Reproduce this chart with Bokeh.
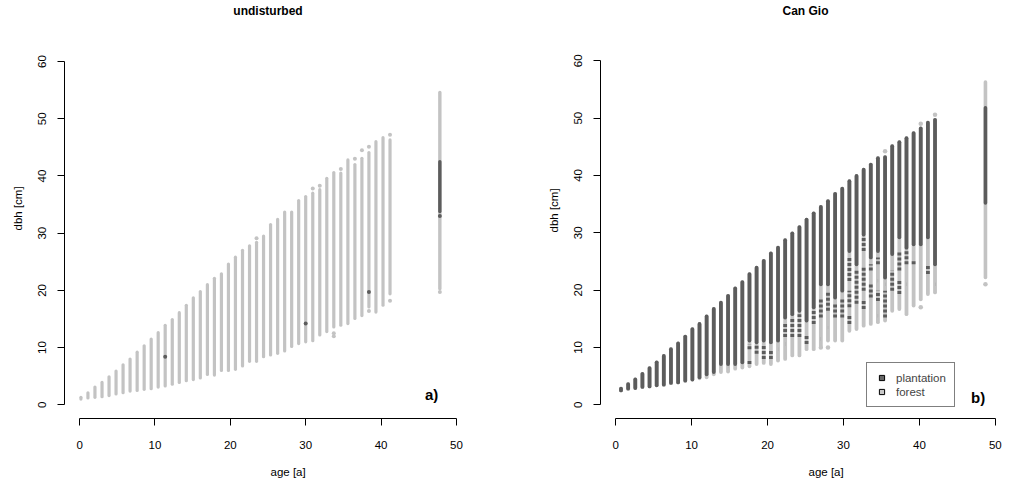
from bokeh.plotting import figure
from bokeh.models import ColumnDataSource, FixedTicker, Label, Legend, LegendItem, Range1d, Title
from bokeh.layouts import row
from bokeh.embed import file_html
from bokeh.resources import INLINE

FONT = "Liberation Sans"
LIGHT = "#c3c3c3"
DARK = "#5c5c5c"

# ---------------- panel a) undisturbed ----------------
L_AGE = [0.18, 1.11, 2.04, 2.98, 3.91, 4.84, 5.77, 6.70, 7.64, 8.57, 9.50, 10.43, 11.36,
         12.30, 13.23, 14.16, 15.09, 16.02, 16.96, 17.89, 18.82, 19.75, 20.68, 21.62,
         22.55, 23.48, 24.41, 25.34, 26.28, 27.21, 28.14, 29.07, 30.00, 30.94, 31.87,
         32.80, 33.73, 34.66, 35.60, 36.53, 37.46, 38.39, 39.32, 40.26, 41.19]
L_TOP = [1.3, 2.1, 3.1, 3.9, 4.9, 5.9, 7.0, 8.0, 9.2, 10.3, 11.5, 12.6, 13.9, 14.9, 16.1,
         17.4, 18.7, 19.8, 21.0, 22.1, 22.9, 24.6, 25.8, 27.0, 27.8, 28.4, 29.5, 31.5, 32.4,
         33.7, 33.7, 35.7, 36.4, 37.0, 37.6, 39.6, 40.6, 40.5, 42.8, 42.0, 43.1, 44.1, 46.0,
         46.7, 46.3]
L_BOT = [1.0, 1.2, 1.3, 1.4, 1.6, 1.9, 2.1, 2.4, 2.5, 2.7, 2.8, 3.1, 3.3, 3.6, 3.9, 4.2,
         4.4, 4.7, 5.3, 5.2, 6.0, 6.0, 6.2, 6.8, 7.6, 7.6, 8.4, 8.7, 9.0, 9.4, 10.2, 10.7,
         11.0, 11.2, 12.2, 12.8, 13.6, 13.9, 14.2, 15.1, 15.6, 17.1, 16.2, 17.4, 19.4]
L_LDOT_IDX = [25, 33, 34, 37, 39, 40, 41, 44, 44, 36, 36, 41]
L_LDOT_VAL = [29.1, 37.8, 38.3, 41.2, 43.0, 44.5, 45.1, 47.2, 18.2, 12.5, 12.0, 16.4]
L_DDOT_IDX = [12, 32, 41]
L_DDOT_VAL = [8.4, 14.2, 19.7]
L_SUM_AGE = [47.8]
L_SUM_LIGHT_LO, L_SUM_LIGHT_HI = [20.3], [54.6]
L_SUM_DARK_LO, L_SUM_DARK_HI = [33.8], [42.5]
L_SUM_LDOT, L_SUM_DDOT = [19.7], [33.0]

# ---------------- panel b) Can Gio ----------------
R_AGE = [0.70, 1.64, 2.58, 3.52, 4.46, 5.40, 6.34, 7.28, 8.22, 9.16, 10.10, 11.04, 11.98,
         12.92, 13.86, 14.80, 15.74, 16.68, 17.62, 18.56, 19.50, 20.44, 21.38, 22.32,
         23.26, 24.20, 25.14, 26.08, 27.02, 27.96, 28.90, 29.84, 30.78, 31.72, 32.66,
         33.60, 34.54, 35.48, 36.42, 37.36, 38.30, 39.24, 40.18, 41.12, 42.06]
R_DARK_TOP = [2.8, 3.6, 4.4, 5.4, 6.4, 7.4, 8.5, 9.7, 10.7, 11.9, 13.2, 14.1, 15.4, 16.7,
              17.8, 19.0, 20.3, 21.4, 22.8, 23.9, 25.1, 26.4, 27.4, 28.7, 29.9, 31.0, 32.3,
              33.4, 34.5, 35.5, 36.8, 37.7, 39.0, 39.9, 41.0, 41.9, 43.0, 43.2, 45.1, 45.8,
              46.5, 47.4, 48.2, 49.2, 49.7]
R_DARK_BOT = [2.5, 2.8, 2.9, 3.1, 3.2, 3.4, 3.5, 3.8, 3.9, 4.2, 4.4, 4.8, 5.3, 5.7, 7.1,
              7.1, 7.1, 7.4, 11.2, 10.9, 11.2, 10.9, 11.2, 15.2, 15.8, 16.4, 14.7, 17.0,
              21.0, 21.0, 18.7, 19.9, 26.8, 24.5, 29.7, 25.7, 26.8, 22.2, 26.3, 29.2, 27.4,
              28.0, 28.0, 29.2, 24.5]
R_LIGHT_BOT = [2.5, 2.8, 2.9, 3.1, 3.2, 3.4, 3.5, 3.8, 3.9, 4.2, 4.4, 4.6, 4.8, 5.3, 5.7,
               5.8, 6.3, 6.5, 6.7, 7.1, 7.3, 7.1, 7.7, 8.0, 8.6, 8.6, 9.7, 9.7, 10.3, 11.2,
               11.2, 11.2, 12.9, 13.2, 13.8, 14.1, 14.4, 14.7, 16.4, 16.7, 15.8, 17.3, 18.4,
               19.3, 19.6]
R_MIX_IDX = [14, 15, 18, 18, 19, 20, 21, 22, 23, 23, 24, 25, 26, 27, 28, 28, 29, 29, 30, 31,
             32, 32, 32, 33, 34, 34, 34, 35, 35, 36, 36, 36, 36, 37, 37, 38, 39, 39, 40, 40,
             41, 43, 44]
R_MIX_HI = [6.7, 6.7, 10.6, 7.7, 10.3, 10.6, 9.4, 9.7, 14.1, 10.6, 15.2, 15.8, 12.1, 16.4,
            18.7, 11.5, 19.9, 13.5, 17.6, 18.7, 25.7, 19.9, 15.8, 23.4, 29.2, 23.9, 18.1,
            24.5, 21.0, 25.7, 21.6, 19.9, 15.5, 21.0, 19.9, 23.4, 26.8, 21.6, 26.8, 21.0,
            25.1, 24.5, 21.0]
R_MIX_LO = [6.7, 6.7, 9.7, 7.1, 8.9, 8.0, 8.0, 9.7, 11.8, 10.6, 11.8, 11.8, 10.6, 14.1,
            15.2, 11.5, 16.4, 13.5, 15.2, 15.2, 21.6, 17.0, 14.1, 17.6, 26.8, 19.9, 16.7,
            23.4, 18.7, 24.5, 21.6, 18.1, 15.5, 21.0, 15.2, 19.9, 23.4, 19.3, 24.5, 21.0,
            24.5, 22.8, 21.0]
R_LDOT_IDX = [37, 42, 44, 28, 29, 42]
R_LDOT_VAL = [44.2, 49.0, 50.6, 10.0, 10.0, 17.0]
R_SUM_AGE = [48.7]
R_SUM_LIGHT_LO, R_SUM_LIGHT_HI = [22.2], [56.3]
R_SUM_DARK_LO, R_SUM_DARK_HI = [35.2], [51.8]
R_SUM_LDOT = [21.0]

LEGEND_LABELS = ["plantation", "forest"]
LEGEND_COLORS = ["#666666", "#c8c8c8"]

X_TICKS = [0, 10, 20, 30, 40, 50]
Y_TICKS = [0, 10, 20, 30, 40, 50, 60]


def base(width, y_end, bl, br, bb):
    p = figure(width=width, height=484, x_range=Range1d(-2, 52), y_range=Range1d(-2.4, y_end),
               output_backend="svg", toolbar_location=None,
               min_border_left=bl, min_border_right=br, min_border_top=0, min_border_bottom=bb)
    p.grid.visible = False
    p.outline_line_color = None
    p.background_fill_color = "white"
    p.border_fill_color = "white"
    p.xaxis.ticker = FixedTicker(ticks=X_TICKS)
    p.yaxis.ticker = FixedTicker(ticks=Y_TICKS)
    p.xaxis.bounds = (0, 50)
    p.yaxis.bounds = (0, 60)
    for ax in (p.xaxis[0], p.yaxis[0]):
        ax.axis_line_color = "black"
        ax.axis_line_width = 1
        ax.major_tick_in = 0
        ax.major_tick_out = 7
        ax.minor_tick_line_color = None
        ax.major_label_text_font = FONT
        ax.major_label_text_font_size = "11.5px"
        ax.major_label_text_color = "black"
    p.yaxis.major_label_orientation = "vertical"
    p.yaxis.major_label_standoff = 11
    p.xaxis.major_label_standoff = 15
    return p


def titles(p, main, xlab_off, ylab_off):
    p.add_layout(Title(text=main, align="center", standoff=2, text_font=FONT,
                       text_font_size="12px", text_font_style="bold",
                       text_color="black"), "above")
    p.add_layout(Title(text="\nage [a]", align="left", offset=xlab_off, standoff=0,
                       text_font=FONT, text_font_size="11.5px", text_font_style="normal",
                       text_color="black"), "below")
    p.add_layout(Title(text="dbh [cm]\n", align="left", offset=ylab_off, standoff=0,
                       text_font=FONT, text_font_size="11.5px", text_font_style="normal",
                       text_color="black"), "left")


def tag(p, x, y, s):
    p.add_layout(Label(x=x, y=y, text=s, text_font=FONT, text_font_size="15px",
                       text_font_style="bold", text_align="center",
                       text_baseline="middle", text_color="black"))


def seg(p, xs, lo, hi, color, width, dash="solid", cap="round"):
    src = ColumnDataSource(dict(x=xs, lo=lo, hi=hi))
    return p.segment(x0="x", y0="lo", x1="x", y1="hi", source=src, line_color=color,
                     line_width=width, line_cap=cap, line_dash=dash)


def dots(p, xs, ys, color, size):
    src = ColumnDataSource(dict(x=xs, y=ys))
    return p.scatter(x="x", y="y", source=src, size=size, fill_color=color, line_color=None)


# ---- left panel
p1 = base(505, 67.53, 64, 34, 63)
seg(p1, L_AGE, L_BOT, L_TOP, LIGHT, 3.2)
dots(p1, [L_AGE[i] for i in L_LDOT_IDX], L_LDOT_VAL, LIGHT, 4)
dots(p1, [L_AGE[i] for i in L_DDOT_IDX], L_DDOT_VAL, DARK, 4)
seg(p1, L_SUM_AGE, L_SUM_LIGHT_LO, L_SUM_LIGHT_HI, LIGHT, 3.4)
seg(p1, L_SUM_AGE, L_SUM_DARK_LO, L_SUM_DARK_HI, DARK, 3.4)
dots(p1, L_SUM_AGE, L_SUM_LDOT, LIGHT, 4)
dots(p1, L_SUM_AGE, L_SUM_DDOT, DARK, 4)
titles(p1, "undisturbed", 206, 188)
tag(p1, 46.7, 1.76, "a)")

# ---- right panel
p2 = base(505, 67.38, 95, 0, 66)
seg(p2, R_AGE, R_LIGHT_BOT, R_DARK_TOP, LIGHT, 3.8)
seg(p2, R_AGE, R_DARK_BOT, R_DARK_TOP, DARK, 3.8)
seg(p2, [R_AGE[i] for i in R_MIX_IDX], R_MIX_LO, R_MIX_HI, DARK, 3.8, dash="3 2", cap="butt")
dots(p2, [R_AGE[i] for i in R_LDOT_IDX], R_LDOT_VAL, LIGHT, 4.5)
seg(p2, R_SUM_AGE, R_SUM_LIGHT_LO, R_SUM_LIGHT_HI, LIGHT, 3.6)
seg(p2, R_SUM_AGE, R_SUM_DARK_LO, R_SUM_DARK_HI, DARK, 3.6)
dots(p2, R_SUM_AGE, R_SUM_LDOT, LIGHT, 4.5)
titles(p2, "Can Gio", 208, 186)
tag(p2, 47.74, 1.2, "b)")

# legend swatches: renderers with a single non-drawn (NaN) point, used only as legend keys
items = []
for lab, col in zip(LEGEND_LABELS, LEGEND_COLORS):
    r = p2.scatter(x=[float("nan")], y=[float("nan")], marker="square", size=6,
                   fill_color=col, line_color="black", line_width=1)
    items.append(LegendItem(label=lab, renderers=[r]))
legend = Legend(items=items, location=(266, 11), margin=0, padding=8, spacing=1,
                glyph_width=13, glyph_height=13, label_height=13, label_standoff=8,
                label_text_font=FONT, label_text_font_size="11.5px",
                border_line_color="black", border_line_width=1, background_fill_alpha=1.0)
p2.add_layout(legend)

layout = row(p1, p2)
open("out.html", "w").write(file_html(layout, INLINE))
